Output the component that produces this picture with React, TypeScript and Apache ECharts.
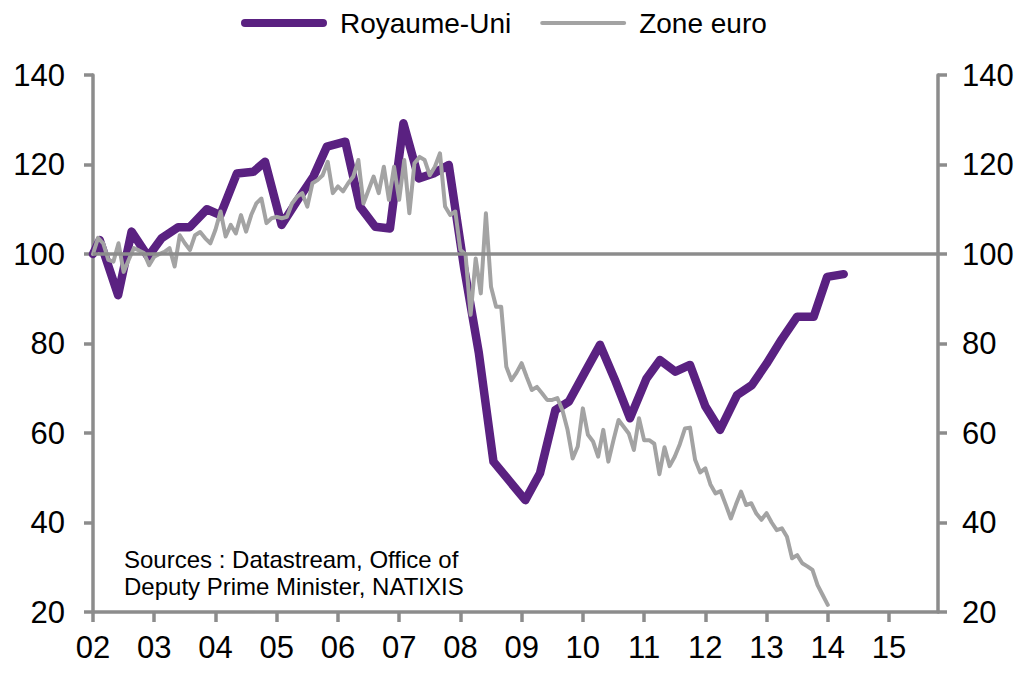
import { useEffect, useRef } from "react";
import * as echarts from "echarts";

// Royaume-Uni: quarterly index (decimal year, value)
const ukTimes = [
  2002.0, 2002.11, 2002.41, 2002.63, 2002.9, 2003.12, 2003.39, 2003.58, 2003.86,
  2004.08, 2004.35, 2004.62, 2004.81, 2005.08, 2005.34, 2005.6, 2005.82, 2006.12,
  2006.36, 2006.61, 2006.85, 2007.07, 2007.32, 2007.56, 2007.81, 2008.06, 2008.3,
  2008.54, 2008.8, 2009.06, 2009.3, 2009.55, 2009.77, 2010.03, 2010.28, 2010.52,
  2010.77, 2011.04, 2011.26, 2011.51, 2011.75, 2012.0, 2012.24, 2012.52, 2012.76,
  2013.0, 2013.25, 2013.5, 2013.77, 2013.99, 2014.26,
];
const ukValues = [
  100, 103.1, 90.8, 105, 99.4, 103.5, 106, 106, 110,
  108.7, 118, 118.4, 120.6, 106.5, 112, 117.3, 124, 125.1,
  110.6, 106.1, 105.7, 129.2, 116.9, 118, 119.9, 97, 78,
  53.6, 49.3, 45, 51, 65.1, 67, 73.5, 79.7, 72,
  63.3, 72.2, 76.3, 73.7, 75.2, 66, 60.7, 68.5, 70.7,
  75.5, 81, 86, 86, 94.9, 95.5,
];

// Zone euro: monthly index starting January 2002
const euroStartYear = 2002;
const euroMonthly = [
  // 2002
  100, 103.6, 102.4, 98.7, 98.3, 102.4, 96, 98.7, 101.3, 100.8, 100.2, 97.5,
  // 2003
  99.4, 100, 100.5, 101.3, 97.2, 104.2, 102.4, 100.9, 104.2, 104.9, 103.5, 102.4,
  // 2004
  105.4, 109.5, 103.9, 106.5, 104.6, 108.7, 105, 108.7, 111.3, 112.4, 106.9, 108,
  // 2005
  108.3, 108, 108.3, 111.3, 112.8, 113.6, 110.6, 115.8, 116.5, 117.6, 120.6, 113.6,
  // 2006
  115.1, 114, 115.8, 117.3, 121, 111.3, 114.3, 117.3, 113.6, 119.5, 112.1, 119.5,
  // 2007
  112.1, 121, 109.1, 120.3, 121.7, 121, 117.6, 119.5, 122.5, 110.6, 108.7, 109.5,
  // 2008
  100.9, 100, 86.4, 99, 91.2, 109.1, 92.7, 88.2, 88.2, 74.8, 71.8, 73.5,
  // 2009
  75.6, 72.5, 69.6, 70.3, 68.9, 67.4, 67.4, 67.8, 65.1, 60.7, 54.3, 57,
  // 2010
  65.5, 59.6, 58.1, 54.7, 60.7, 53.6, 58.4, 62.9, 61.4, 59.9, 56.2, 63.3,
  // 2011
  58.4, 58.4, 57.6, 50.8, 56.8, 52.6, 54.7, 57.5, 61, 61.2, 54, 51.2,
  // 2012
  52.1, 48.5, 46.5, 47, 44, 40.9, 44, 46.9, 43.9, 44.3, 42, 40.6,
  // 2013
  42.1, 40, 38.3, 38.7, 36.8, 32, 32.7, 30.9, 30.2, 29.4, 26, 23.8,
  // 2014
  21.6,
];

const yearTicks = [
  2002, 2003, 2004, 2005, 2006, 2007, 2008, 2009, 2010, 2011, 2012, 2013, 2014, 2015,
];
const xMin = 2002;
const xMax = 2015.8;
const yMin = 20;
const yMax = 140;
const yStep = 20;
const referenceLevel = 100;

const seriesNames = ["Royaume-Uni", "Zone euro"];
const sourceLines = ["Sources : Datastream, Office of", "Deputy Prime Minister, NATIXIS"];

const FONT = '"Liberation Sans", Arial, sans-serif';
const PURPLE = "#5a2181";
const LIGHT_GREY = "#a3a3a3";
const AXIS_GREY = "#8c8c8c";

export default function App() {
  const ref = useRef<HTMLDivElement>(null);

  useEffect(() => {
    if (!ref.current) return;
    const chart = echarts.init(ref.current, null, { renderer: "svg" });

    const ukData = ukTimes.map((t, i) => [t, ukValues[i]]);
    const euroData = euroMonthly.map((v, i) => [euroStartYear + i / 12, v]);

    const axisLineStyle = { color: AXIS_GREY, width: 3.5 };
    const yAxisBase = {
      type: "value" as const,
      min: yMin,
      max: yMax,
      interval: yStep,
      axisLine: { show: true, lineStyle: axisLineStyle },
      axisTick: { show: true, length: 9, lineStyle: axisLineStyle },
      splitLine: { show: false },
    };

    chart.setOption({
      animation: false,
      backgroundColor: "#ffffff",
      textStyle: { fontFamily: FONT },
      grid: { left: 93, right: 93, top: 75, bottom: 63 },
      legend: {
        left: 241,
        top: 9,
        padding: 0,
        itemWidth: 86,
        itemHeight: 8,
        itemGap: 29,
        textStyle: { fontSize: 28, color: "#000", fontFamily: FONT, padding: [0, 0, 0, 8] },
        data: [
          {
            name: seriesNames[0],
            icon: "path://M4,0 H82 A4,4 0 0 1 82,8 H4 A4,4 0 0 1 4,0 Z",
            itemStyle: { color: PURPLE },
          },
          {
            name: seriesNames[1],
            icon: "path://M2,0 H84 A2,2 0 0 1 84,4 H2 A2,2 0 0 1 2,0 Z",
            itemStyle: { color: LIGHT_GREY },
          },
        ],
      },
      xAxis: {
        type: "value",
        min: xMin,
        max: xMax,
        axisLine: { show: true, onZero: false, lineStyle: axisLineStyle },
        axisTick: { show: true, length: 10, lineStyle: axisLineStyle, customValues: yearTicks },
        axisLabel: {
          customValues: yearTicks,
          formatter: (v: number) => String(Math.round(v) % 100).padStart(2, "0"),
          fontSize: 31,
          color: "#000",
          fontFamily: FONT,
          margin: 20,
        },
        splitLine: { show: false },
      },
      yAxis: [
        {
          ...yAxisBase,
          position: "left",
          axisLabel: { fontSize: 31, color: "#000", fontFamily: FONT, margin: 28 },
        },
        {
          ...yAxisBase,
          position: "right",
          axisLabel: { fontSize: 31, color: "#000", fontFamily: FONT, margin: 24 },
        },
      ],
      graphic: [
        {
          type: "text",
          left: 124,
          top: 546,
          z: 10,
          style: {
            text: sourceLines.join("\n"),
            font: `24px ${FONT}`,
            fill: "#000",
            lineHeight: 27,
          },
        },
      ],
      series: [
        {
          name: "reference",
          type: "line",
          data: [],
          z: 1,
          silent: true,
          markLine: {
            silent: true,
            symbol: "none",
            label: { show: false },
            lineStyle: { color: AXIS_GREY, width: 3.5, type: "solid" },
            data: [{ yAxis: referenceLevel }],
          },
        },
        {
          name: seriesNames[0],
          type: "line",
          data: ukData,
          z: 3,
          showSymbol: false,
          symbol: "none",
          lineStyle: { color: PURPLE, width: 8.5, cap: "round", join: "round" },
          itemStyle: { color: PURPLE },
        },
        {
          name: seriesNames[1],
          type: "line",
          data: euroData,
          z: 4,
          showSymbol: false,
          symbol: "none",
          lineStyle: { color: LIGHT_GREY, width: 4, cap: "round", join: "round" },
          itemStyle: { color: LIGHT_GREY },
        },
      ],
    });

    return () => chart.dispose();
  }, []);

  return (
    <div
      ref={ref}
      style={{ position: "fixed", left: 0, top: 0, width: 1031, height: 675, background: "#fff" }}
    />
  );
}
